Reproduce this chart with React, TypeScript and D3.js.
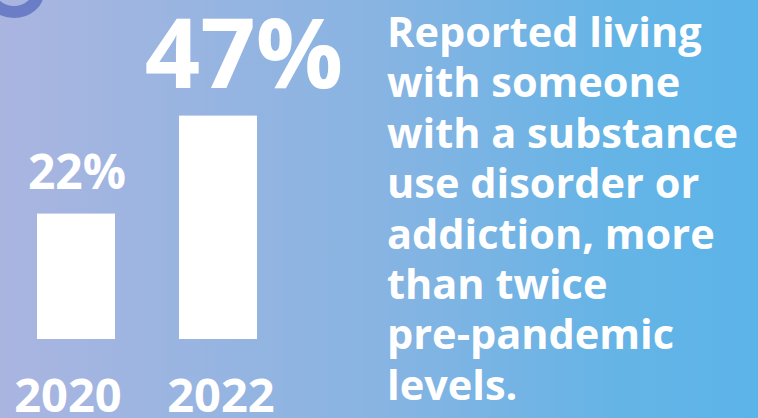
import React from "react";
import * as d3 from "d3";

const years = ["2020", "2022"];
const values = [22, 47];
const valueLabels = ["22%", "47%"];
const textLines = [
  "Reported living",
  "with someone",
  "with a substance",
  "use disorder or",
  "addiction, more",
  "than twice",
  "pre-pandemic",
  "levels.",
];

const W = 758;
const H = 418;
const FONT = "'Open Sans', 'Noto Sans', sans-serif";

export default function App() {
  const x = d3.scalePoint<string>().domain(years).range([76, 218]);
  const y = d3.scaleLinear().domain([-10, 47]).range([339, 115.6]);
  const barW = 78;

  return (
    <svg
      width={W}
      height={H}
      style={{ position: "absolute", left: 0, top: 0, display: "block" }}
    >
      <defs>
        <linearGradient id="bg" x1="0" y1="0" x2="1" y2="0">
          <stop offset="0" stopColor="#AAB5E0" />
          <stop offset="0.5" stopColor="#88B4E2" />
          <stop offset="0.8" stopColor="#66B4E6" />
          <stop offset="1" stopColor="#5BB4E8" />
        </linearGradient>
      </defs>
      <rect x={0} y={0} width={W} height={H} fill="url(#bg)" />
      <ellipse cx={14} cy={-8} rx={24} ry={20} fill="none" stroke="#6A7DC6" strokeWidth={12} />

      {years.map((yr, i) => (
        <rect
          key={yr}
          x={(x(yr) as number) - barW / 2}
          y={y(values[i])}
          width={barW}
          height={y(-10) - y(values[i])}
          fill="#FFFFFF"
        />
      ))}

      {years.map((yr, i) => (
        <text
          key={"v" + yr}
          x={(x(yr) as number) + (i === 1 ? 26 : 1)}
          y={y(values[i]) - (i === 1 ? 28 : 25)}
          textAnchor="middle"
          fill="#FFFFFF"
          fontFamily={FONT}
          fontWeight={700}
          fontSize={i === 1 ? 97 : 48}
        >
          {valueLabels[i]}
        </text>
      ))}

      {years.map((yr, i) => (
        <text
          key={"y" + yr}
          x={(x(yr) as number) + (i === 0 ? -8 : 3)}
          y={412}
          textAnchor="middle"
          fill="#FFFFFF"
          fontFamily={FONT}
          fontWeight={700}
          fontSize={47}
        >
          {yr}
        </text>
      ))}

      {textLines.map((t, i) => (
        <text
          key={"t" + i}
          x={387}
          y={47 + i * 50.4}
          fill="#FFFFFF"
          fontFamily={FONT}
          fontWeight={700}
          fontSize={41.5}
        >
          {t}
        </text>
      ))}
    </svg>
  );
}
